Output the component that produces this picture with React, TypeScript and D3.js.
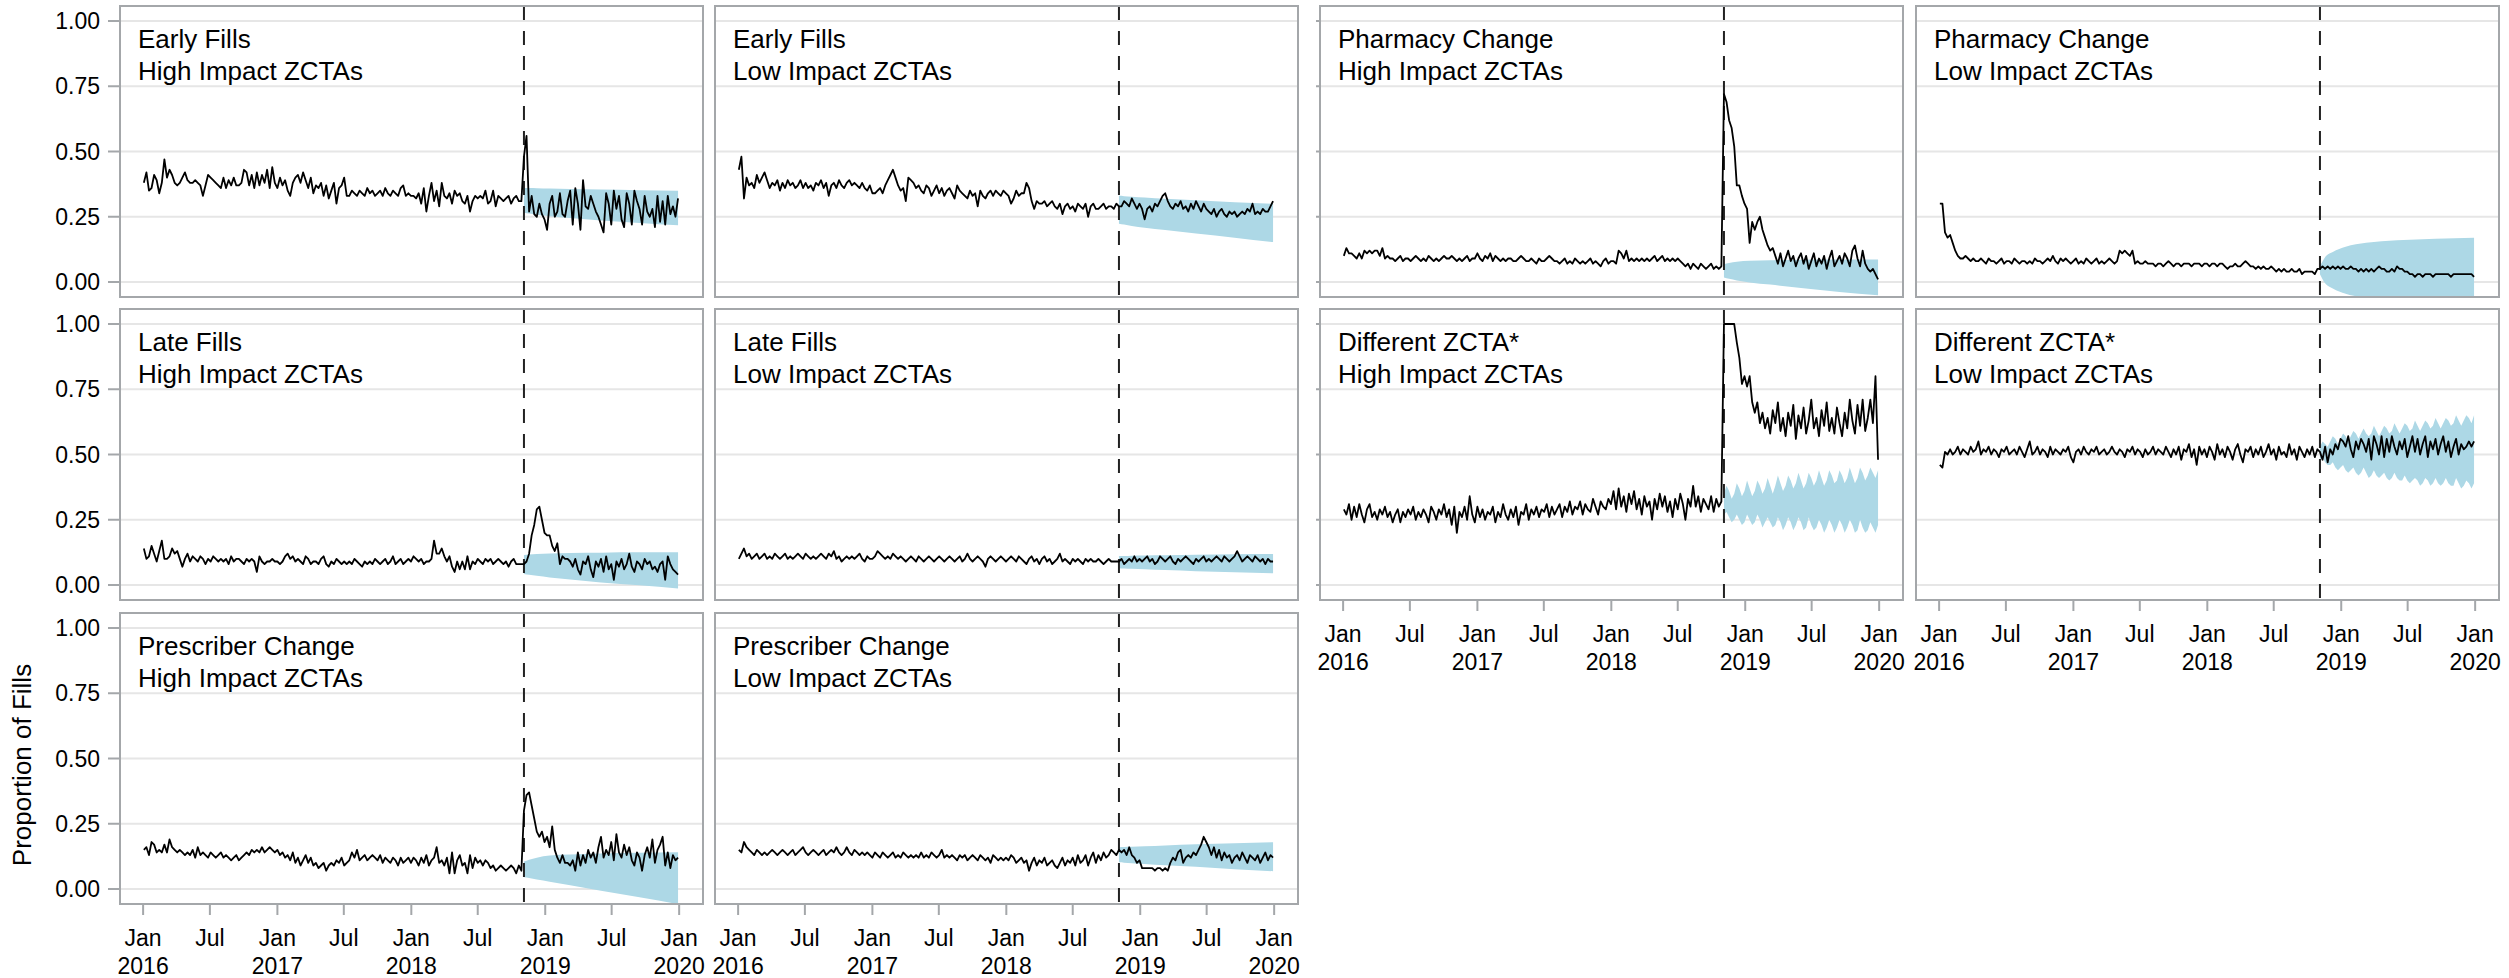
import React from 'react';
import * as d3 from 'd3';

const W = 2509;
const H = 978;
const FONT = '"Liberation Sans", Arial, Helvetica, sans-serif';

// Weekly observations start Sunday 2016-01-03; index 148 = 2018-11-04 (intervention)
const INTERVENTION_WEEK = 148;
const weekDate = (i: number) => new Date(2016, 0, 3 + 7 * i);

const yTickValues = [0, 0.25, 0.5, 0.75, 1];
const yTickLabels = ['0.00', '0.25', '0.50', '0.75', '1.00'];
const xTickDates = ['2016-01-01', '2016-07-01', '2017-01-01', '2017-07-01', '2018-01-01', '2018-07-01', '2019-01-01', '2019-07-01', '2020-01-01'];
const xTickMonth = ['Jan', 'Jul', 'Jan', 'Jul', 'Jan', 'Jul', 'Jan', 'Jul', 'Jan'];
const xTickYear = ['2016', '', '2017', '', '2018', '', '2019', '', '2020'];

// Series values in percent (proportion x 100), weekly 2016-01-03 .. 2019-12-29
const earlyHigh = [
  38,42,35,36,41,39,34,38,47,40,43,41,38,37,38,40,42,39,38,38,39,38,37,33,37,41,40,39,38,37,36,40,36,39,37,40,37,37,38,43,42,37,41,36,42,37,41,38,43,36,44,38,
  36,40,37,39,35,33,38,40,41,38,42,39,36,40,34,37,36,38,33,37,32,35,38,30,36,37,40,33,33,35,34,33,35,34,33,36,34,35,33,34,35,33,36,34,33,35,34,33,36,37,33,34,
  33,33,32,34,30,36,27,33,38,31,35,29,38,33,32,34,30,35,33,34,31,30,33,27,31,33,32,33,32,35,30,31,35,29,33,32,31,32,33,30,32,33,31,31,48,56,27,33,26,25,30,26,
  24,20,30,33,25,27,34,26,25,31,35,22,36,30,20,39,29,28,33,30,27,25,22,19,34,30,22,35,28,33,24,21,34,30,22,35,31,28,22,33,27,25,28,21,33,23,31,22,33,26,29,25,32,
];
const earlyLow = [
  43,48,32,40,37,38,36,41,38,40,42,39,36,38,37,39,35,38,36,39,37,38,36,37,39,36,38,36,37,35,38,37,39,36,38,33,37,38,36,39,37,36,38,39,37,38,37,36,38,36,35,37,
  34,34,35,36,34,37,39,41,43,40,37,35,36,31,40,39,38,36,37,35,34,37,36,33,35,37,34,36,33,35,36,34,32,37,35,34,33,32,35,33,34,29,35,33,32,34,35,33,35,34,33,35,
  34,33,30,32,35,33,34,34,38,36,31,28,31,30,30,31,29,30,31,29,28,30,26,29,30,28,29,27,30,29,28,30,25,29,30,28,28,29,30,28,29,29,28,30,29,29,31,30,29,32,30,28,
  30,28,24,28,29,27,30,29,31,33,34,31,29,28,30,29,31,28,29,27,30,28,31,29,27,30,28,27,26,28,25,27,28,26,25,27,26,27,25,26,27,26,28,27,30,26,27,26,28,27,27,29,31,
];
const pharmHigh = [
  10,13,11,11,10,9,11,9,12,11,12,11,12,12,10,13,9,10,9,9,8,9,10,8,9,9,8,9,10,9,8,9,8,10,9,8,9,8,9,10,9,9,10,9,8,9,8,9,10,8,9,9,
  11,9,8,10,9,11,8,10,9,8,9,8,9,9,8,8,9,10,9,8,8,9,8,7,9,8,8,9,10,9,8,8,7,8,9,7,8,7,9,8,7,8,7,8,9,7,8,7,6,8,9,7,
  8,8,7,12,11,9,12,8,9,8,9,8,9,8,9,8,9,10,8,9,10,8,9,8,9,8,9,8,7,6,7,5,7,6,5,7,6,5,6,7,5,6,5,6,72,69,62,59,52,37,37,33,
  30,28,15,23,20,23,25,20,17,14,12,13,10,7,11,6,9,12,8,10,6,9,11,7,10,5,8,11,6,9,7,10,5,9,12,6,8,10,7,11,9,6,12,14,9,6,12,7,5,4,5,3,1,
];
const pharmLow = [
  30,30,19,17,18,15,12,10,9,9,10,9,8,9,8,8,9,8,7,9,8,8,7,8,9,7,8,8,7,9,8,7,8,8,7,8,7,9,8,8,7,8,9,8,10,8,7,9,8,9,8,7,
  8,9,7,8,7,9,8,7,8,9,7,8,7,8,9,8,7,8,12,11,12,11,10,12,7,8,7,7,8,7,7,7,6,7,7,6,7,8,7,6,7,7,6,7,7,7,6,7,7,7,6,7,
  7,6,7,7,6,7,7,6,5,6,6,7,6,6,7,8,7,6,6,5,6,5,6,5,5,6,5,4,5,4,5,4,4,5,4,4,5,3,4,4,4,4,3,5,5,6,5,6,5,6,5,6,
  5,6,5,5,6,5,5,4,5,4,5,4,5,4,5,6,5,5,4,4,5,4,6,5,5,4,4,3,3,2,3,3,2,3,3,3,2,3,3,3,3,3,3,2,3,3,3,3,3,3,3,3,2,
];
const lateHigh = [
  14,10,11,15,12,9,13,17,10,10,11,14,12,13,10,7,10,12,9,11,10,9,11,10,8,10,9,11,10,9,10,9,10,8,11,9,10,10,9,8,10,9,10,9,5,11,9,8,9,9,10,9,
  9,8,9,11,12,10,11,9,10,9,8,11,10,8,9,9,8,10,11,8,7,9,8,10,9,8,9,8,9,8,10,9,8,7,9,8,9,8,10,9,8,9,10,8,9,11,8,9,10,8,9,10,
  9,11,10,9,10,8,9,9,10,17,12,12,14,11,9,11,7,5,9,6,9,6,11,6,9,8,10,9,8,10,9,10,8,9,10,9,8,9,7,9,10,8,8,8,8,9,12,19,23,29,30,25,
  20,19,19,15,13,16,8,11,10,10,9,7,10,6,4,9,8,11,6,3,9,7,10,5,11,6,8,2,9,7,10,6,8,12,7,5,9,8,6,10,8,9,6,7,5,8,9,2,11,8,6,5,4,
];
const lateLow = [
  10,12,14,11,12,10,11,12,10,11,12,10,11,10,12,11,10,11,12,10,11,10,11,12,11,10,12,11,10,11,10,11,12,11,10,12,11,13,10,11,9,10,11,10,11,10,11,12,10,9,11,10,
  10,11,13,12,11,10,11,10,12,11,10,11,10,9,10,11,10,9,11,10,9,10,11,10,9,10,11,10,9,10,11,10,9,10,11,9,10,12,10,9,10,11,10,9,7,10,11,10,9,10,11,10,
  9,10,11,10,9,11,10,9,8,10,11,9,10,8,10,11,9,10,8,9,10,12,9,10,9,8,10,9,10,9,8,10,9,10,9,9,10,9,8,9,10,9,9,9,9,10,8,9,10,9,11,9,
  10,9,10,11,9,10,8,9,11,10,9,10,11,9,8,10,9,10,11,10,9,8,10,9,10,11,9,10,9,10,11,10,9,11,10,9,10,11,13,11,9,10,11,10,9,11,10,9,10,8,10,9,9,
];
const diffHigh = [
  29,27,31,25,30,26,31,27,24,29,31,26,28,25,29,27,30,26,28,24,27,29,24,28,26,29,27,30,25,28,26,29,27,24,30,28,25,29,27,31,26,29,23,30,20,28,26,30,25,34,27,24,
  30,26,29,25,28,27,30,24,28,26,31,27,25,29,26,30,23,28,27,31,25,29,27,30,26,29,28,31,26,30,27,29,31,26,30,28,32,27,30,29,32,27,31,29,28,33,30,27,32,30,29,33,
  31,36,29,37,30,34,28,35,31,36,29,33,27,34,30,32,25,33,29,35,30,34,28,32,26,33,29,35,31,25,33,30,38,30,34,28,33,31,29,34,28,33,30,32,100,100,100,100,100,93,87,77,
  80,76,80,70,66,70,62,66,60,64,58,67,62,70,59,64,57,66,61,69,56,65,60,68,58,63,71,60,64,57,67,61,70,59,64,58,68,62,57,66,60,71,63,58,69,61,71,59,64,71,62,80,48,
];
const diffLow = [
  46,45,51,50,52,50,51,53,50,52,51,50,53,51,52,55,50,52,51,53,50,52,51,49,52,51,53,50,51,52,50,53,51,49,52,55,50,51,53,50,52,51,49,53,50,52,51,50,52,51,53,49,
  47,51,52,50,53,51,50,52,51,53,50,51,52,50,51,53,51,50,52,51,49,52,51,53,50,52,51,49,52,50,51,53,50,52,51,50,53,51,49,52,50,53,48,52,51,54,49,52,46,53,50,52,
  49,53,51,48,54,50,52,49,53,51,48,52,54,50,47,52,51,53,49,52,50,53,49,51,54,50,52,48,53,50,51,49,54,50,52,48,53,51,49,52,50,53,49,52,51,48,53,47,52,50,54,52,
  56,55,53,57,52,49,55,52,56,54,51,56,48,57,54,50,57,49,56,51,57,53,50,55,52,56,49,53,57,51,56,50,54,57,49,55,52,56,50,54,57,51,55,49,53,56,50,54,52,53,55,53,55,
];
const prescHigh = [
  15,16,13,18,17,14,15,14,17,14,19,16,15,14,15,14,13,14,13,15,12,16,13,14,13,12,14,13,12,13,14,12,13,12,11,12,13,11,12,13,14,13,15,14,15,14,16,14,15,16,15,14,
  15,13,14,12,13,11,14,10,12,9,11,13,10,12,9,10,8,9,10,7,9,10,9,11,10,12,9,10,11,14,12,15,11,12,13,11,12,13,12,11,13,10,12,11,10,12,11,9,12,10,11,12,
  10,12,11,9,12,10,13,9,11,12,16,10,11,9,12,6,14,6,11,13,9,10,6,13,8,12,10,11,9,11,10,8,9,7,8,9,8,7,8,9,8,6,9,7,30,36,37,32,27,22,20,22,
  18,20,16,24,15,12,10,13,10,10,9,11,7,14,9,13,10,15,12,14,10,16,20,12,15,13,18,11,21,14,12,17,13,16,11,9,14,12,7,13,16,12,19,10,15,17,20,9,14,8,13,11,12,
];
const prescLow = [
  15,14,18,16,15,14,13,15,14,13,14,13,14,15,14,13,14,15,14,13,14,15,13,14,15,16,14,13,14,15,14,13,14,15,13,14,15,14,16,14,13,14,16,14,13,15,14,13,14,13,14,13,
  12,14,13,12,14,13,12,13,14,12,13,12,14,13,12,13,12,13,12,14,12,13,12,14,13,12,13,15,12,13,12,13,12,11,13,12,13,11,12,13,12,11,13,12,11,12,10,13,12,11,12,11,
  12,11,13,12,10,11,12,10,11,7,10,12,9,11,10,12,9,10,11,9,8,10,12,9,11,10,12,9,13,10,11,13,9,12,14,10,13,11,14,12,13,15,14,13,15,14,15,13,16,13,12,10,
  11,8,8,8,8,8,7,8,8,7,8,7,10,12,11,14,15,10,12,13,12,14,13,15,17,20,18,16,13,16,12,15,11,14,12,13,10,12,13,11,14,12,10,13,12,11,13,10,12,14,11,13,12,
];

// Forecast bands (percent). Smooth bands given at these forecast weeks.
const fcKnotWeeks = [148, 150, 153, 158, 166, 178, 193, 208];
const earlyHighLo = [26.5, 26.2, 25.8, 25.2, 24.5, 23.6, 22.6, 21.7];
const earlyHighHi = [36, 36, 35.9, 35.8, 35.6, 35.4, 35.2, 35];
const earlyLowLo = [22.3, 22, 21.5, 20.8, 19.9, 18.6, 17, 15.3];
const earlyLowHi = [33, 32.9, 32.7, 32.4, 31.9, 31.3, 30.6, 30];
const pharmHighLo = [1.7, 1.2, 0.6, -0.2, -1.0, -2.3, -3.8, -5.1];
const pharmHighHi = [6.8, 7.3, 7.8, 8.1, 8.3, 8.5, 8.6, 8.6];
const pharmLowLo = [3, -0.5, -2.5, -4.5, -6, -7, -7.6, -8];
const pharmLowHi = [6, 9.5, 11.5, 13.5, 15, 16, 16.6, 17];
const lateHighLo = [4.2, 3.9, 3.5, 2.9, 2.1, 1, -0.1, -1.3];
const lateHighHi = [11.5, 11.7, 11.9, 12.1, 12.3, 12.4, 12.5, 12.5];
const lateLowLo = [6.4, 6.3, 6.2, 6, 5.7, 5.3, 4.9, 4.5];
const lateLowHi = [11.1, 11.1, 11.2, 11.3, 11.4, 11.6, 11.8, 11.9];
const prescHighLo = [4.5, 4.2, 3.6, 2.8, 1.4, -0.65, -3.2, -5.8];
const prescHighHi = [10.5, 11.2, 12.0, 12.8, 13.2, 13.6, 13.9, 14.1];
const prescLowLo = [10.2, 10.1, 9.9, 9.6, 9.1, 8.5, 7.6, 6.8];
const prescLowHi = [16, 16.1, 16.2, 16.4, 16.7, 17.1, 17.5, 17.9];

// Seasonal bands, weekly from week 148 to 208
const weeklyFcWeeks = d3.range(148, 209);
const diffHighHi = [
  35,38,36,33,35,39,37,34,36,40, 37,34,36,40,38,35,37,41,38,35, 38,42,39,36,38,42,40,37,39,43,
  40,37,39,43,41,38,40,44,41,38, 40,44,42,39,40,44,42,39,41,45, 42,39,41,45,43,40,42,45,43,41, 44,
];
const diffHighLo = [
  27,28,26,24,25,27,25,23,24,27, 25,23,24,27,25,22,24,26,24,22, 23,26,24,21,23,26,24,21,23,26,
  24,21,22,26,23,21,22,25,23,20, 22,25,23,20,22,25,23,20,22,25, 23,20,21,25,22,20,21,24,22,20, 23,
];
const diffLowHi = [
  53,55,54,53,55,57,56,54,56,58, 57,55,57,59,58,56,58,60,58,57, 58,61,59,57,59,61,60,58,59,62,
  60,58,60,62,61,59,60,63,61,59, 61,63,62,60,61,64,62,60,62,64, 63,61,62,65,63,61,63,65,64,62, 65,
];
const diffLowLo = [
  48,49,47,46,46,47,45,44,45,46, 44,43,44,45,43,42,43,45,43,41, 42,44,42,41,42,43,41,40,41,43,
  41,40,40,42,40,39,40,41,40,38, 39,41,40,38,39,41,39,38,39,41, 39,38,38,41,39,37,38,40,39,37, 39,
];

type Panel = {
  row: number; col: number; t1: string; t2: string;
  series: number[]; fcWeeks: number[]; lo: number[]; hi: number[];
};

const panels: Panel[] = [
  { row: 0, col: 0, t1: 'Early Fills', t2: 'High Impact ZCTAs', series: earlyHigh, fcWeeks: fcKnotWeeks, lo: earlyHighLo, hi: earlyHighHi },
  { row: 0, col: 1, t1: 'Early Fills', t2: 'Low Impact ZCTAs', series: earlyLow, fcWeeks: fcKnotWeeks, lo: earlyLowLo, hi: earlyLowHi },
  { row: 0, col: 2, t1: 'Pharmacy Change', t2: 'High Impact ZCTAs', series: pharmHigh, fcWeeks: fcKnotWeeks, lo: pharmHighLo, hi: pharmHighHi },
  { row: 0, col: 3, t1: 'Pharmacy Change', t2: 'Low Impact ZCTAs', series: pharmLow, fcWeeks: fcKnotWeeks, lo: pharmLowLo, hi: pharmLowHi },
  { row: 1, col: 0, t1: 'Late Fills', t2: 'High Impact ZCTAs', series: lateHigh, fcWeeks: fcKnotWeeks, lo: lateHighLo, hi: lateHighHi },
  { row: 1, col: 1, t1: 'Late Fills', t2: 'Low Impact ZCTAs', series: lateLow, fcWeeks: fcKnotWeeks, lo: lateLowLo, hi: lateLowHi },
  { row: 1, col: 2, t1: 'Different ZCTA*', t2: 'High Impact ZCTAs', series: diffHigh, fcWeeks: weeklyFcWeeks, lo: diffHighLo, hi: diffHighHi },
  { row: 1, col: 3, t1: 'Different ZCTA*', t2: 'Low Impact ZCTAs', series: diffLow, fcWeeks: weeklyFcWeeks, lo: diffLowLo, hi: diffLowHi },
  { row: 2, col: 0, t1: 'Prescriber Change', t2: 'High Impact ZCTAs', series: prescHigh, fcWeeks: fcKnotWeeks, lo: prescHighLo, hi: prescHighHi },
  { row: 2, col: 1, t1: 'Prescriber Change', t2: 'Low Impact ZCTAs', series: prescLow, fcWeeks: fcKnotWeeks, lo: prescLowLo, hi: prescLowHi },
];

const colLeft = [120, 715, 1320, 1916];
const PW = 583;
const rowTop = [6, 309, 613];
const PH = 291;

const BORDER = '#a4a7aa';
const GRID = '#e6e6e6';
const RIBBON = '#add8e6';

function PanelView({ p }: { p: Panel }) {
  const x0 = colLeft[p.col];
  const y0 = rowTop[p.row];
  const x = d3.scaleTime().domain([new Date(2015, 9, 30), new Date(2020, 2, 6)]).range([x0, x0 + PW]);
  const y = d3.scaleLinear().domain([-0.0575, 1.0575]).range([y0 + PH, y0]);
  const line = d3.line<number>().x((_, i) => x(weekDate(i))).y((v) => y(v / 100));
  const area = d3.area<number>()
    .x((w) => x(weekDate(w)))
    .y0((_, i) => y(p.lo[i] / 100))
    .y1((_, i) => y(p.hi[i] / 100))
    .curve(p.fcWeeks.length > 20 ? d3.curveLinear : d3.curveMonotoneX);
  const clipId = `clip-${p.row}-${p.col}`;
  const xi = x(weekDate(INTERVENTION_WEEK));
  const showYLabels = p.col === 0;
  const showShortTicks = p.col === 2;
  const showXAxis = (p.col <= 1 && p.row === 2) || (p.col >= 2 && p.row === 1);
  return (
    <g>
      <defs>
        <clipPath id={clipId}>
          <rect x={x0} y={y0} width={PW} height={PH} />
        </clipPath>
      </defs>
      {yTickValues.map((v) => (
        <line key={v} x1={x0} x2={x0 + PW} y1={y(v)} y2={y(v)} stroke={GRID} strokeWidth={2} />
      ))}
      <g clipPath={`url(#${clipId})`}>
        <path d={area(p.fcWeeks) || ''} fill={RIBBON} stroke="none" />
        <line x1={xi} x2={xi} y1={y0} y2={y0 + PH} stroke="#222" strokeWidth={2} strokeDasharray="14 11" />
        <path d={line(p.series) || ''} fill="none" stroke="#000" strokeWidth={1.8} strokeLinejoin="round" />
      </g>
      <rect x={x0} y={y0} width={PW} height={PH} fill="none" stroke={BORDER} strokeWidth={2} />
      <text x={x0 + 18} y={y0 + 42} fontSize={26} fontFamily={FONT} fill="#000">{p.t1}</text>
      <text x={x0 + 18} y={y0 + 74} fontSize={26} fontFamily={FONT} fill="#000">{p.t2}</text>
      {showYLabels && yTickValues.map((v, i) => (
        <g key={v}>
          <line x1={x0 - 12} x2={x0} y1={y(v)} y2={y(v)} stroke={BORDER} strokeWidth={2} />
          <text x={x0 - 20} y={y(v) + 8} fontSize={23} fontFamily={FONT} textAnchor="end" fill="#000">{yTickLabels[i]}</text>
        </g>
      ))}
      {showShortTicks && yTickValues.map((v) => (
        <line key={v} x1={x0 - 4} x2={x0} y1={y(v)} y2={y(v)} stroke={BORDER} strokeWidth={2} />
      ))}
      {showXAxis && xTickDates.map((d, i) => {
        const xx = x(new Date(d + 'T00:00:00'));
        return (
          <g key={d}>
            <line x1={xx} x2={xx} y1={y0 + PH} y2={y0 + PH + 11} stroke={BORDER} strokeWidth={2} />
            <text x={xx} y={y0 + PH + 42} fontSize={23} fontFamily={FONT} textAnchor="middle" fill="#000">{xTickMonth[i]}</text>
            {xTickYear[i] && (
              <text x={xx} y={y0 + PH + 70} fontSize={23} fontFamily={FONT} textAnchor="middle" fill="#000">{xTickYear[i]}</text>
            )}
          </g>
        );
      })}
    </g>
  );
}

export default function App() {
  return (
    <svg width={W} height={H} style={{ position: 'absolute', left: 0, top: 0, background: '#fff' }}>
      <rect x={0} y={0} width={W} height={H} fill="#fff" />
      {panels.map((p) => (
        <PanelView key={`${p.row}-${p.col}`} p={p} />
      ))}
      <text transform="translate(31,765) rotate(-90)" fontSize={26} fontFamily={FONT} textAnchor="middle" fill="#000">Proportion of Fills</text>
    </svg>
  );
}
